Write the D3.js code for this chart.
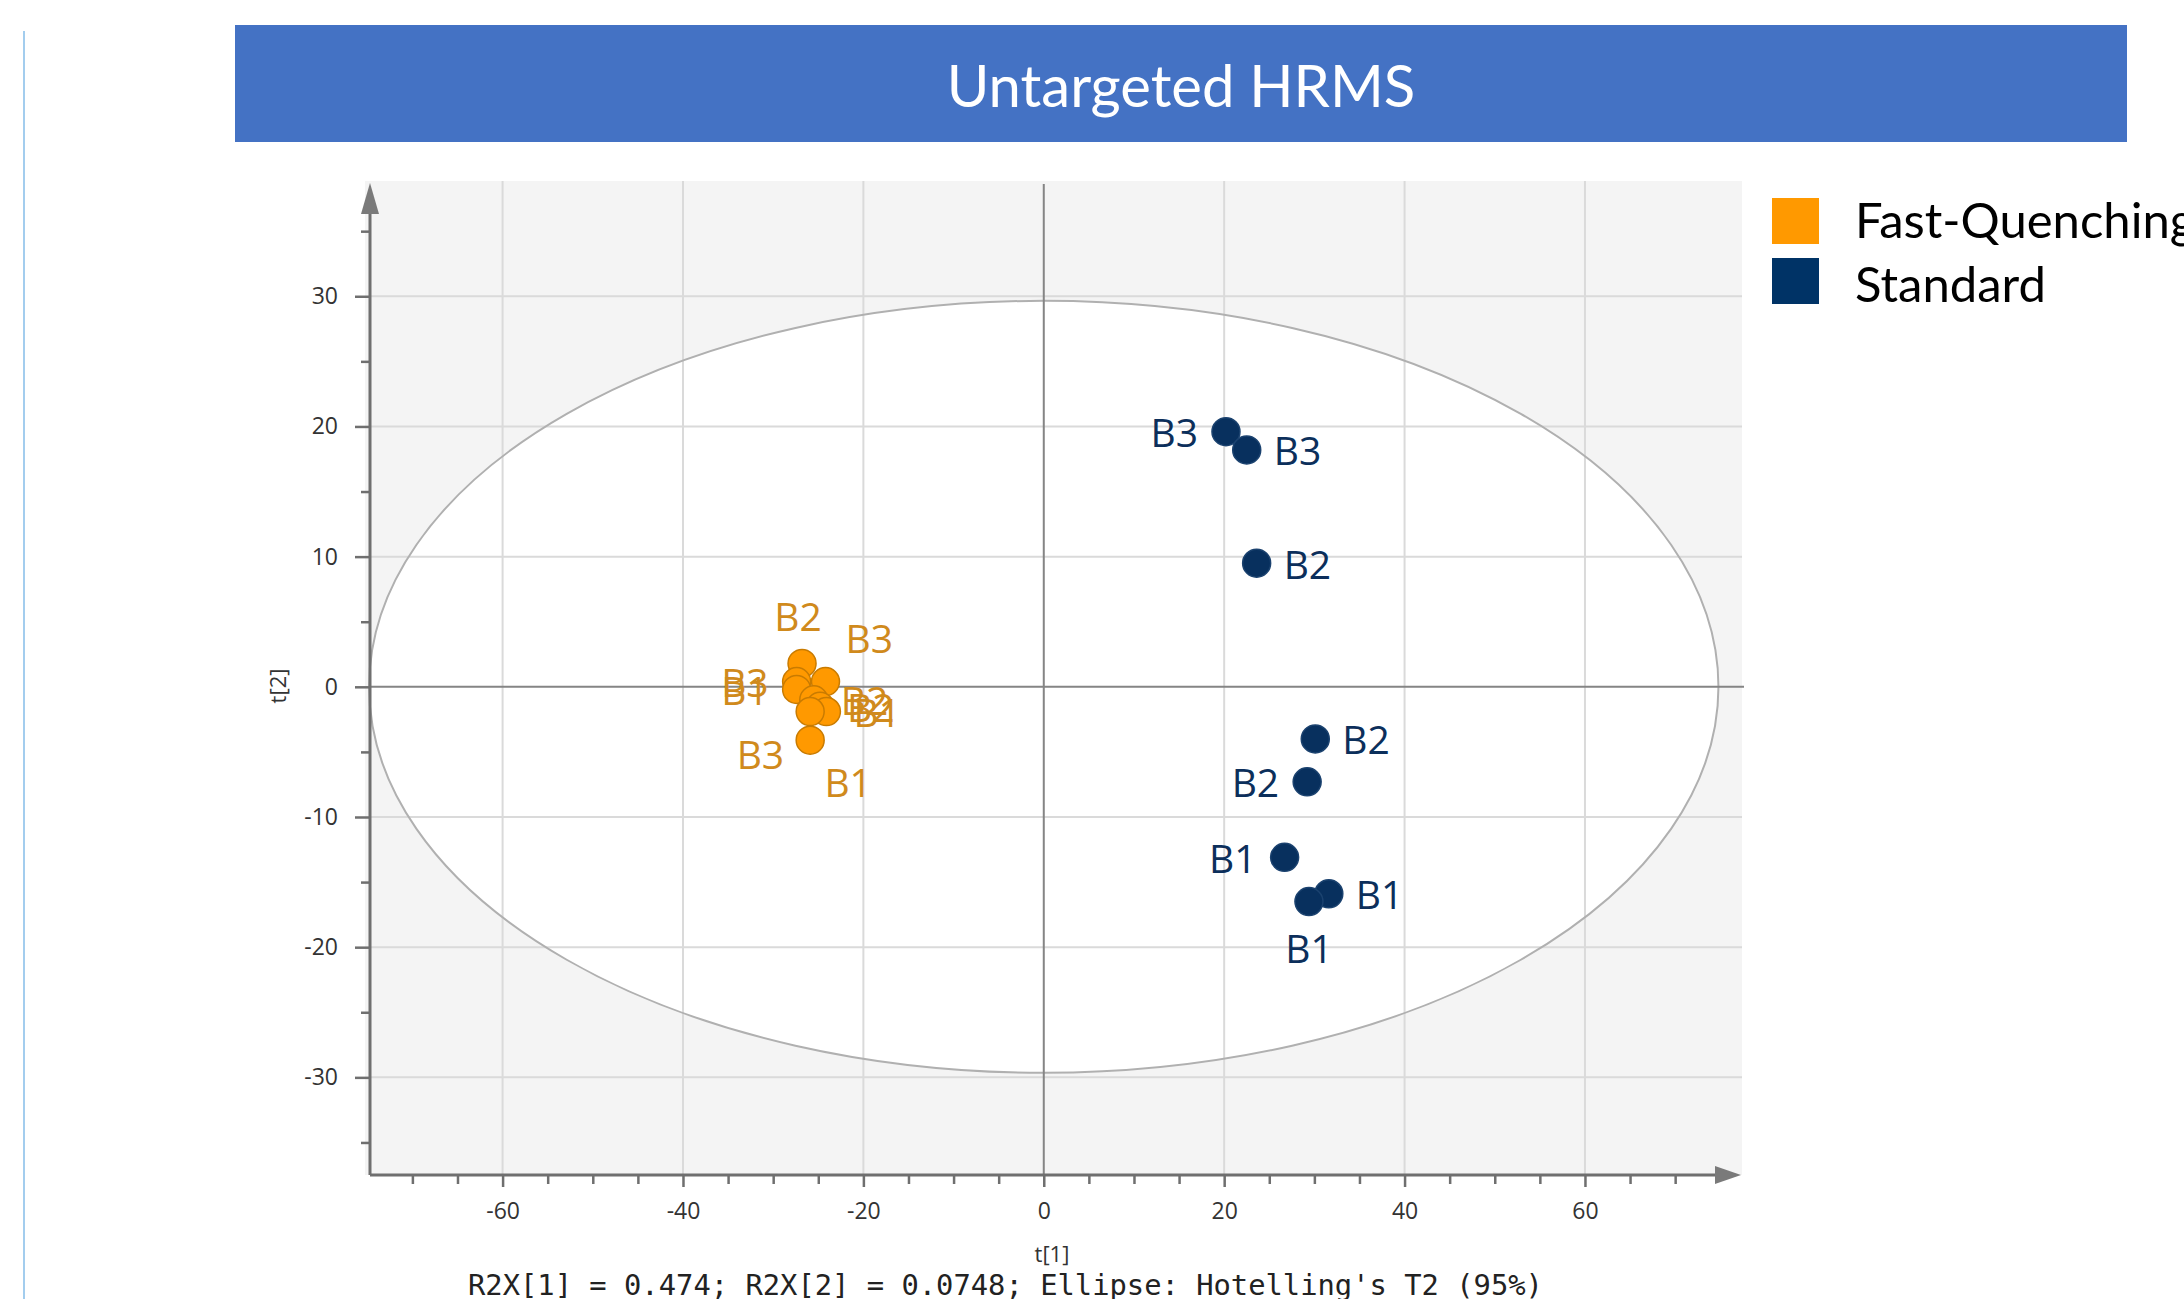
<!DOCTYPE html>
<html>
<head>
<meta charset="utf-8">
<script src="https://cdn.jsdelivr.net/npm/d3@7"></script>
<style>
  body { margin: 0; background: #fff; }
  svg { display: block; }
</style>
</head>
<body>
<svg></svg>
<script>
// ---- data ----
const xTicks = [-60, -40, -20, 0, 20, 40, 60];
const yTicks = [-30, -20, -10, 0, 10, 20, 30];

const fqT1 = [-26.8, -24.2, -27.4, -27.4, -25.5, -24.8, -24.1, -25.9, -25.9];
const fqT2 = [1.8, 0.4, 0.4, -0.2, -1.0, -1.5, -1.9, -1.9, -4.1];
const fqLabels = ["B2", "B3", "B3", "B1", "B2", "B2", "B1", "B3", "B1"];
const fqLabelPos = ["a", "ar", "l", "l", "r", "r", "r", "bl", "br"];

const stT1 = [20.2, 22.5, 23.6, 30.1, 29.2, 26.7, 31.6, 29.4];
const stT2 = [19.6, 18.2, 9.5, -4.0, -7.3, -13.1, -15.9, -16.5];
const stLabels = ["B3", "B3", "B2", "B2", "B2", "B1", "B1", "B1"];
const stLabelPos = ["l", "r", "r", "r", "l", "l", "r", "b"];

const seriesNames = ["Fast-Quenching", "Standard"];
const ellipseT1 = 74.8, ellipseT2 = 29.65;   // Hotelling's T2 radii

// ---- layout ----
const width = 2184, height = 1299;
const svg = d3.select("svg").attr("width", width).attr("height", height);

const x = d3.scaleLinear().domain([-74.7, 77.3]).range([370, 1741]);
const y = d3.scaleLinear().domain([-37.5, 38.7]).range([1175, 183]);

const orange = "#ff9900", navy = "#08305e";

// thin guide line on the left
svg.append("line")
  .attr("x1", 24).attr("x2", 24).attr("y1", 31).attr("y2", height)
  .attr("stroke", "#a3cdee").attr("stroke-width", 2);

// title banner
svg.append("rect")
  .attr("x", 235).attr("y", 25).attr("width", 1892).attr("height", 117)
  .attr("fill", "#4472c4");
svg.append("text")
  .attr("x", 1181).attr("y", 107)
  .attr("text-anchor", "middle")
  .style("font-family", "Lato, 'Open Sans', sans-serif")
  .style("font-size", "58px")
  .attr("fill", "#fff")
  .text("Untargeted HRMS");

// plot background
svg.append("rect")
  .attr("x", 365).attr("y", 181)
  .attr("width", 1742 - 365).attr("height", 1175 - 181)
  .attr("fill", "#f4f4f4");

// ellipse fill
svg.append("ellipse")
  .attr("cx", x(0)).attr("cy", y(0))
  .attr("rx", x(ellipseT1) - x(0)).attr("ry", y(0) - y(ellipseT2))
  .attr("fill", "#fff");

// grid
const grid = svg.append("g").attr("stroke", "#dadada").attr("stroke-width", 2);
grid.selectAll(".gx").data(xTicks.filter(d => d !== 0)).join("line")
  .attr("x1", d => x(d)).attr("x2", d => x(d))
  .attr("y1", 181).attr("y2", 1175);
grid.selectAll(".gy").data(yTicks.filter(d => d !== 0)).join("line")
  .attr("x1", 370).attr("x2", 1742)
  .attr("y1", d => y(d)).attr("y2", d => y(d));

// ellipse outline
svg.append("ellipse")
  .attr("cx", x(0)).attr("cy", y(0))
  .attr("rx", x(ellipseT1) - x(0)).attr("ry", y(0) - y(ellipseT2))
  .attr("fill", "none").attr("stroke", "#b0b0b0").attr("stroke-width", 2);

// zero lines
svg.append("line")
  .attr("x1", 370).attr("x2", 1744).attr("y1", y(0)).attr("y2", y(0))
  .attr("stroke", "#858585").attr("stroke-width", 2);
svg.append("line")
  .attr("x1", x(0)).attr("x2", x(0)).attr("y1", 184).attr("y2", 1175)
  .attr("stroke", "#858585").attr("stroke-width", 2);

// axes
const tickFont = "'Open Sans', 'Noto Sans', sans-serif";
const minorX = d3.range(-70, 71, 5).filter(d => d % 20 !== 0);
const minorY = d3.range(-35, 36, 5).filter(d => d % 10 !== 0);

function styleAxis(g) {
  g.select(".domain").remove();
  g.selectAll("line").attr("stroke", "#6f6f6f").attr("stroke-width", 2.5);
  g.selectAll("text")
    .style("font-family", tickFont)
    .style("font-size", "23px")
    .attr("fill", "#333");
}

svg.append("g")
  .attr("transform", "translate(0,1175)")
  .call(d3.axisBottom(x).tickValues(minorX).tickSize(9).tickFormat(""))
  .call(styleAxis);
svg.append("g")
  .attr("transform", "translate(0,1175)")
  .call(d3.axisBottom(x).tickValues(xTicks).tickSize(12).tickPadding(16).tickFormat(d => String(d)))
  .call(styleAxis);

svg.append("g")
  .attr("transform", "translate(370,0)")
  .call(d3.axisLeft(y).tickValues(minorY).tickSize(9).tickFormat(""))
  .call(styleAxis);
svg.append("g")
  .attr("transform", "translate(370,0)")
  .call(d3.axisLeft(y).tickValues(yTicks).tickSize(15).tickPadding(17).tickFormat(d => String(d)))
  .call(styleAxis);

// axis lines with arrows
svg.append("line")
  .attr("x1", 370).attr("x2", 1722).attr("y1", 1175).attr("y2", 1175)
  .attr("stroke", "#6f6f6f").attr("stroke-width", 3);
svg.append("line")
  .attr("x1", 370).attr("x2", 370).attr("y1", 1175).attr("y2", 205)
  .attr("stroke", "#6f6f6f").attr("stroke-width", 3);
svg.append("path")
  .attr("d", "M1741,1175 L1715,1166 L1715,1184 Z")
  .attr("fill", "#7a7a7a");
svg.append("path")
  .attr("d", "M370,183 L361,214 L379,214 Z")
  .attr("fill", "#7a7a7a");

// axis titles
svg.append("text")
  .attr("x", 1052).attr("y", 1262)
  .attr("text-anchor", "middle")
  .style("font-family", tickFont).style("font-size", "22px")
  .attr("fill", "#333")
  .text("t[1]");
svg.append("text")
  .attr("transform", "translate(286,686) rotate(-90)")
  .attr("text-anchor", "middle")
  .style("font-family", tickFont).style("font-size", "22px")
  .attr("fill", "#333")
  .text("t[2]");

svg.append("text")
  .attr("x", 468).attr("y", 1295)
  .style("font-family", "'DejaVu Sans Mono', 'Liberation Mono', monospace")
  .style("font-size", "28.8px")
  .attr("fill", "#222")
  .text("R2X[1] = 0.474; R2X[2] = 0.0748; Ellipse: Hotelling's T2 (95%)");

// points
const place = {
  l:  { dx: -28, dy: 0,   anchor: "end" },
  r:  { dx: 27,  dy: 0,   anchor: "start" },
  a:  { dx: -4,  dy: -48, anchor: "middle" },
  b:  { dx: 0,   dy: 46,  anchor: "middle" },
  ar: { dx: 20,  dy: -44, anchor: "start" },
  bl: { dx: -26, dy: 42,  anchor: "end" },
  br: { dx: 38,  dy: 41,  anchor: "middle" }
};

const fq = fqT1.map((t1, i) => ({ t1, t2: fqT2[i], label: fqLabels[i], pos: fqLabelPos[i] }));
const st = stT1.map((t1, i) => ({ t1, t2: stT2[i], label: stLabels[i], pos: stLabelPos[i] }));

function drawSeries(data, fill, stroke, labelColor) {
  const g = svg.append("g");
  g.selectAll("text").data(data).join("text")
    .attr("x", d => x(d.t1) + place[d.pos].dx)
    .attr("y", d => y(d.t2) + place[d.pos].dy)
    .attr("text-anchor", d => place[d.pos].anchor)
    .attr("dominant-baseline", "central")
    .style("font-family", "'Open Sans', 'Noto Sans', sans-serif")
    .style("font-size", "39px")
    .attr("fill", labelColor)
    .text(d => d.label);
  g.selectAll("circle").data(data).join("circle")
    .attr("cx", d => x(d.t1))
    .attr("cy", d => y(d.t2))
    .attr("r", 14)
    .attr("fill", fill)
    .attr("stroke", stroke)
    .attr("stroke-width", 1.5);
}

drawSeries(fq, orange, "#c97b00", "#d08a1c");
drawSeries(st, navy, "#1b426f", "#0c2f5b");

// legend
const legend = svg.append("g").attr("transform", "translate(1772,198)");
legend.selectAll("rect").data(seriesNames).join("rect")
  .attr("x", 0).attr("y", (d, i) => i * 60)
  .attr("width", 47).attr("height", 46)
  .attr("fill", (d, i) => i === 0 ? orange : "#003366");
legend.selectAll("text").data(seriesNames).join("text")
  .attr("x", 83).attr("y", (d, i) => 40 + i * 64)
  .style("font-family", "Lato, 'Open Sans', sans-serif")
  .style("font-size", "49px")
  .attr("fill", "#000")
  .text(d => d);
</script>
</body>
</html>
